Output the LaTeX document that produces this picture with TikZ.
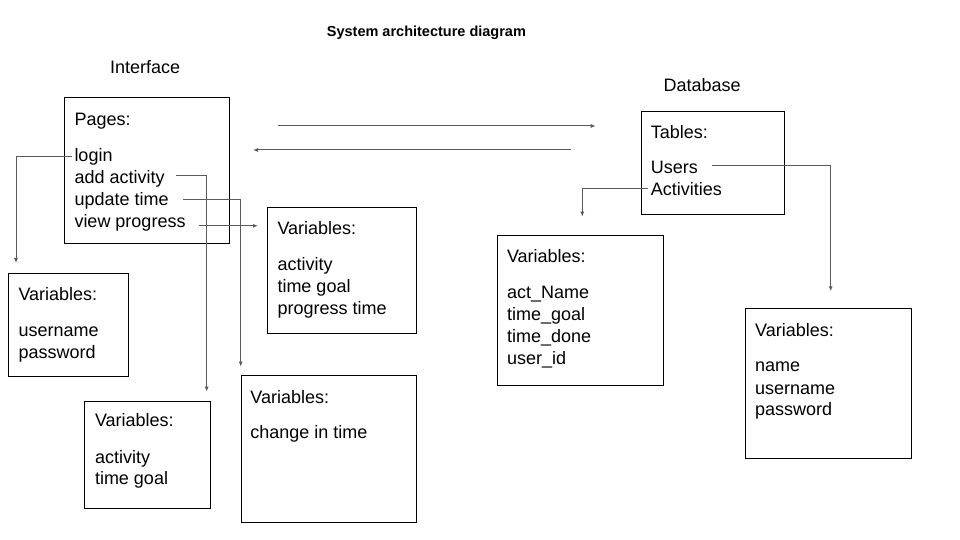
\documentclass[tikz,border=0pt]{standalone}
\usepackage{fontspec}
\setmainfont{Liberation Sans}
\usetikzlibrary{calc,arrows.meta}
\definecolor{linegray}{HTML}{5A5A5A}
\begin{document}
\begin{tikzpicture}[x=1pt,y=-1pt,
  box/.style={draw=black,line width=1pt,anchor=north west,inner sep=0pt},
  txt/.style={anchor=base west,inner sep=0pt,font=\fontsize{18}{22}\selectfont},
  conn/.style={draw=linegray,line width=1pt,-{Latex[length=5pt,width=4pt]}}]
\fill[white] (0,0) rectangle (960,540);
\useasboundingbox (0,0) rectangle (960,540);

% titles
\node[anchor=base west,inner sep=0pt,font=\bfseries\fontsize{14.5}{17}\selectfont] (title) at (326.7,36.7) {System architecture diagram};
\node[txt] (iface) at (110,73.3) {Interface};
\node[txt] (dbase) at (663.3,92) {Database};

% boxes
\node[box,minimum width=165pt,minimum height=146pt] (pages) at (64.3,97.3) {};
\node[box,minimum width=119.4pt,minimum height=103pt] (loginv) at (8.3,272.7) {};
\node[box,minimum width=125.4pt,minimum height=107.6pt] (addv) at (84.3,400.7) {};
\node[box,minimum width=148.4pt,minimum height=126.6pt] (viewv) at (267.3,206.7) {};
\node[box,minimum width=175pt,minimum height=146.7pt] (updv) at (240.7,375) {};
\node[box,minimum width=143.6pt,minimum height=103.6pt] (tables) at (640.7,110.7) {};
\node[box,minimum width=165.4pt,minimum height=150.3pt] (actv) at (497.3,235) {};
\node[box,minimum width=165.7pt,minimum height=150pt] (usrv) at (745,308.3) {};

% Pages box text
\node[txt] (pagesh) at ($(pages.north west)+(10,28)$) {Pages:};
\node[txt] (login) at ($(pages.north west)+(10,64)$) {login};
\node[txt] (add) at ($(pages.north west)+(10,86)$) {add activity};
\node[txt] (upd) at ($(pages.north west)+(10,108)$) {update time};
\node[txt] (view) at ($(pages.north west)+(10,130)$) {view progress};

% login variables
\node[txt] (loginh) at ($(loginv.north west)+(10,28)$) {Variables:};
\node[txt] (loginu) at ($(loginv.north west)+(10,64)$) {username};
\node[txt] (loginp) at ($(loginv.north west)+(10,86)$) {password};

% add activity variables
\node[txt] (addh) at ($(addv.north west)+(10.5,26)$) {Variables:};
\node[txt] (adda) at ($(addv.north west)+(10.5,62.8)$) {activity};
\node[txt] (addg) at ($(addv.north west)+(10.5,84)$) {time goal};

% view progress variables
\node[txt] (viewh) at ($(viewv.north west)+(10,28)$) {Variables:};
\node[txt] (viewa) at ($(viewv.north west)+(10,64)$) {activity};
\node[txt] (viewg) at ($(viewv.north west)+(10,86)$) {time goal};
\node[txt] (viewp) at ($(viewv.north west)+(10,108)$) {progress time};

% update time variables
\node[txt] (updh) at ($(updv.north west)+(9.5,28)$) {Variables:};
\node[txt] (updc) at ($(updv.north west)+(9.5,63.5)$) {change in time};

% tables
\node[txt] (tablesh) at ($(tables.north west)+(10,28)$) {Tables:};
\node[txt] (users) at ($(tables.north west)+(10,63)$) {Users};
\node[txt] (acts) at ($(tables.north west)+(10,85)$) {Activities};

% activities variables
\node[txt] (acth) at ($(actv.north west)+(9.5,27.5)$) {Variables:};
\node[txt] (actn) at ($(actv.north west)+(9.5,63.5)$) {act\_Name};
\node[txt] (actg) at ($(actv.north west)+(9.5,85.5)$) {time\_goal};
\node[txt] (actd) at ($(actv.north west)+(9.5,107.5)$) {time\_done};
\node[txt] (actu) at ($(actv.north west)+(9.5,129.5)$) {user\_id};

% users variables
\node[txt] (usrh) at ($(usrv.north west)+(10,28.2)$) {Variables:};
\node[txt] (usrn) at ($(usrv.north west)+(10,63.6)$) {name};
\node[txt] (usru) at ($(usrv.north west)+(10,85.8)$) {username};
\node[txt] (usrp) at ($(usrv.north west)+(10,107.6)$) {password};

% connectors
\draw[conn] ($(login.base west)+(-2,-4.5)$) -| ($(loginv.north west)+(7.7,-9.7)$);
\draw[conn] ($(add.base east)+(11,-7.5)$) -| ($(addv.north east)+(-4,-9)$);
\draw[conn] ($(upd.base east)+(14.5,-6)$) -| ($(updv.north west)+(0,-8.3)$);
\coordinate (vtip) at ($(viewv.north west)+(-9.3,0)$);
\draw[conn] ($(view.base east)+(13,-1.5)$) coordinate (vs) -- (vs -| vtip);
\draw[conn] ($(users.base east)+(14,-8)$) -| ($(usrv.north west)+(85.7,-17)$);
\draw[conn] ($(acts.base west)+(-3,-7.4)$) -| ($(actv.north west)+(85,-18.3)$);
\draw[conn] ($(pages.north east)+(47.7,28.7)$) -- ($(tables.north west)+(-45,15.3)$);
\draw[conn] ($(tables.north west)+(-70,39.3)$) -- ($(pages.north east)+(22.7,52.7)$);
\end{tikzpicture}
\end{document}
